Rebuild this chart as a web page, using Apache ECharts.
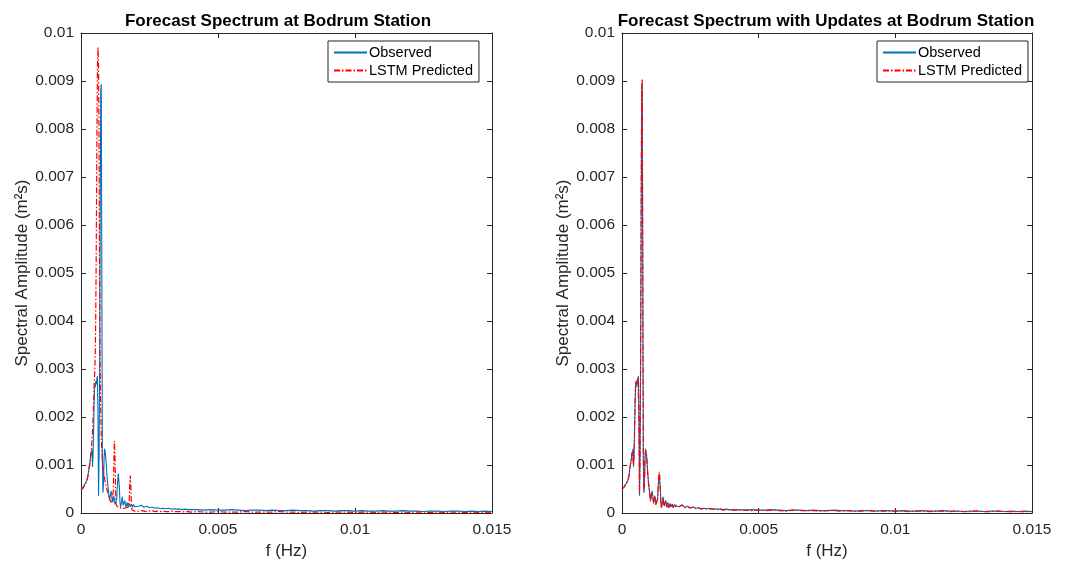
<!DOCTYPE html>
<html>
<head>
<meta charset="utf-8">
<script src="https://cdn.jsdelivr.net/npm/echarts@6/dist/echarts.min.js"></script>
<style>html,body{margin:0;padding:0;background:#fff}#c{width:1067px;height:565px}</style>
</head>
<body>
<div id="c"></div>
<script>
// Frequency bins (Hz)
const freq = [
0,0.00002,0.00004,0.00006,0.00008,0.0001,0.00012,0.00014,0.00016,0.00018,
0.0002,0.00022,0.00024,0.00026,0.00028,0.0003,0.00032,0.00034,0.00036,0.00038,
0.0004,0.00042,0.00044,0.00046,0.00048,0.0005,0.00052,0.00054,0.00056,0.00058,
0.0006,0.00062,0.00064,0.00066,0.00068,0.0007,0.00072,0.00074,0.00076,0.00078,
0.0008,0.00082,0.00084,0.00086,0.00088,0.0009,0.00092,0.00094,0.00096,0.00098,
0.001,0.00102,0.00104,0.00106,0.00108,0.0011,0.00112,0.00114,0.00116,0.00118,
0.0012,0.00122,0.00124,0.00126,0.00128,0.0013,0.00132,0.00134,0.00136,0.00138,
0.0014,0.00142,0.00144,0.00146,0.00148,0.0015,0.00152,0.00154,0.00156,0.00158,
0.0016,0.00162,0.00164,0.00166,0.00168,0.0017,0.00172,0.00174,0.00176,0.00178,
0.0018,0.00182,0.00184,0.00186,0.00188,0.0019,0.00192,0.00194,0.00196,0.00198,
0.002,
0.0021,0.0022,0.0023,0.0024,0.0025,0.0026,0.0027,0.0028,0.0029,0.003,
0.0031,0.0032,0.0033,0.0034,0.0035,0.0036,0.0037,0.0038,0.0039,0.004,
0.00425,0.0045,0.00475,0.005,0.00525,0.0055,0.00575,0.006,0.00625,0.0065,0.00675,
0.007,0.00725,0.0075,0.00775,0.008,0.00825,0.0085,0.00875,0.009,0.00925,0.0095,
0.00975,0.01,0.01025,0.0105,0.01075,0.011,0.01125,0.0115,0.01175,0.012,0.01225,
0.0125,0.01275,0.013,0.01325,0.0135,0.01375,0.014,0.01425,0.0145,0.01475,0.015
];

// Observed spectrum (m^2 s)
const observed = [
0.00050,0.00051,0.00052,0.00053,0.00054,0.00056,0.00058,0.00060,0.00062,0.00064,
0.00066,0.00068,0.00072,0.00080,0.00090,0.00098,0.00104,0.00112,0.00125,0.00120,
0.00134,0.00096,0.00120,0.00170,0.00230,0.00270,0.00262,0.00275,0.00268,0.00280,
0.00285,0.00200,0.00036,0.00120,0.00300,0.00600,0.00880,0.00893,0.00500,0.00120,
0.00042,0.00060,0.00110,0.00134,0.00128,0.00125,0.00105,0.00085,0.00070,0.00058,
0.00048,0.00036,0.00026,0.00030,0.00040,0.00046,0.00038,0.00028,0.00022,0.00030,
0.00036,0.00026,0.00018,0.00014,0.00016,0.00028,0.00048,0.00068,0.00082,0.00080,
0.00055,0.00025,0.00012,0.00010,0.00022,0.00034,0.00030,0.00016,0.00012,0.00020,
0.00026,0.00018,0.00012,0.00016,0.00022,0.00018,0.00012,0.00015,0.00020,0.00017,
0.00013,0.00016,0.00019,0.00015,0.00012,0.00015,0.00018,0.00016,0.00013,0.00015,
0.00017,
0.00014,0.00016,0.00012,0.00014,0.00011,0.00012,0.00010,0.00011,0.00009,0.00010,
0.00009,0.00010,0.00008,0.00009,0.00008,0.00008,0.00007,0.00008,0.00007,0.00007,
0.00007,0.00006,0.00007,0.00006,0.00006,0.00007,0.00006,0.00005,0.00006,0.00006,0.00005,
0.00006,0.00005,0.00005,0.00006,0.00005,0.00005,0.00004,0.00005,0.00005,0.00004,0.00005,
0.00005,0.00004,0.00005,0.00004,0.00004,0.00005,0.00004,0.00004,0.00005,0.00004,0.00004,
0.00003,0.00004,0.00004,0.00003,0.00004,0.00004,0.00003,0.00004,0.00003,0.00004,0.00003
];

// LSTM predicted spectrum (left panel, no updates)
const predicted = [
0.00048,0.00049,0.00050,0.00051,0.00052,0.00054,0.00056,0.00058,0.00060,0.00063,
0.00066,0.00070,0.00074,0.00079,0.00085,0.00092,0.00100,0.00110,0.00122,0.00135,
0.00150,0.00170,0.00195,0.00230,0.00270,0.00290,0.00330,0.00420,0.00580,0.00780,
0.00930,0.00970,0.00940,0.00750,0.00480,0.00300,0.00210,0.00160,0.00130,0.00110,
0.00095,0.00085,0.00078,0.00072,0.00066,0.00060,0.00055,0.00050,0.00046,0.00042,
0.00038,0.00034,0.00030,0.00027,0.00024,0.00022,0.00020,0.00019,0.00020,0.00045,
0.00110,0.00150,0.00120,0.00050,0.00020,0.00015,0.00013,0.00012,0.00012,0.00011,
0.00011,0.00010,0.00010,0.00010,0.00011,0.00010,0.00010,0.00009,0.00010,0.00010,
0.00010,0.00010,0.00011,0.00010,0.00010,0.00010,0.00012,0.00015,0.00025,0.00060,
0.00078,0.00050,0.00015,0.00007,0.00006,0.00005,0.00005,0.00004,0.00005,0.00004,
0.00004,
0.00004,0.00005,0.00004,0.00003,0.00004,0.00005,0.00003,0.00004,0.00003,0.00004,
0.00003,0.00003,0.00004,0.00003,0.00003,0.00003,0.00002,0.00003,0.00003,0.00002,
0.00003,0.00002,0.00002,0.00003,0.00002,0.00002,0.00002,0.00003,0.00002,0.00002,0.00002,
0.00002,0.00003,0.00002,0.00002,0.00001,0.00002,0.00002,0.00002,0.00001,0.00002,0.00002,
0.00002,0.00001,0.00002,0.00002,0.00001,0.00002,0.00002,0.00001,0.00002,0.00001,0.00002,
0.00002,0.00001,0.00002,0.00001,0.00002,0.00002,0.00001,0.00002,0.00001,0.00002,0.00001
];

// LSTM predicted spectrum with updates (right panel)
const predictedUpd = [
0.00049,0.00050,0.00052,0.00053,0.00055,0.00056,0.00058,0.00061,0.00062,0.00065,
0.00066,0.00069,0.00073,0.00079,0.00088,0.00097,0.00105,0.00113,0.00122,0.00128,
0.00130,0.00100,0.00118,0.00175,0.00235,0.00275,0.00270,0.00272,0.00270,0.00282,
0.00282,0.00195,0.00040,0.00125,0.00310,0.00610,0.00890,0.00905,0.00510,0.00125,
0.00045,0.00062,0.00112,0.00130,0.00126,0.00122,0.00100,0.00082,0.00068,0.00056,
0.00046,0.00034,0.00024,0.00032,0.00042,0.00044,0.00036,0.00026,0.00020,0.00028,
0.00034,0.00024,0.00016,0.00012,0.00018,0.00030,0.00052,0.00072,0.00086,0.00078,
0.00050,0.00022,0.00010,0.00012,0.00024,0.00032,0.00028,0.00014,0.00011,0.00018,
0.00024,0.00017,0.00011,0.00017,0.00020,0.00016,0.00011,0.00014,0.00019,0.00015,
0.00012,0.00017,0.00018,0.00013,0.00011,0.00016,0.00017,0.00014,0.00012,0.00016,
0.00015,
0.00013,0.00017,0.00011,0.00013,0.00010,0.00013,0.00009,0.00011,0.00008,0.00010,
0.00008,0.00009,0.00008,0.00008,0.00007,0.00008,0.00006,0.00007,0.00007,0.00006,
0.00006,0.00006,0.00005,0.00006,0.00005,0.00006,0.00005,0.00004,0.00006,0.00005,0.00005,
0.00005,0.00004,0.00005,0.00005,0.00004,0.00005,0.00004,0.00004,0.00005,0.00004,0.00004,
0.00004,0.00004,0.00004,0.00003,0.00004,0.00004,0.00003,0.00004,0.00004,0.00003,0.00004,
0.00003,0.00003,0.00004,0.00003,0.00003,0.00004,0.00003,0.00003,0.00003,0.00003,0.00003
];

const titles = ['Forecast Spectrum at Bodrum Station', 'Forecast Spectrum with Updates at Bodrum Station'];
const seriesNames = ['Observed', 'LSTM Predicted'];
const xName = 'f (Hz)';
const yName = 'Spectral Amplitude (m\u00B2s)';

const pair = (ys) => freq.map((f, i) => [f, ys[i]]);
const axisColor = '#262626';
const font = 'Liberation Sans, Arial, Helvetica, sans-serif';
const fmt = (v) => String(+v.toFixed(4));

const grids = [
  {left: 81, right: 575, top: 33, bottom: 51},
  {left: 622, right: 35, top: 33, bottom: 51}
];

function xAxes(gi) {
  return [
    {type: 'value', gridIndex: gi, position: 'bottom', min: 0, max: 0.015, interval: 0.005,
     name: xName, nameLocation: 'middle', nameGap: 30,
     nameTextStyle: {color: axisColor, fontSize: 17, fontFamily: font},
     axisLine: {show: true, onZero: false, lineStyle: {color: axisColor, width: 1}},
     axisTick: {show: true, inside: true, length: 5, lineStyle: {color: axisColor}},
     axisLabel: {color: axisColor, fontSize: 15.5, fontFamily: font, margin: 9, formatter: fmt},
     splitLine: {show: false}},
    {type: 'value', gridIndex: gi, position: 'top', min: 0, max: 0.015, interval: 0.005,
     axisLine: {show: true, onZero: false, lineStyle: {color: axisColor, width: 1}},
     axisTick: {show: true, inside: true, length: 5, lineStyle: {color: axisColor}},
     axisLabel: {show: false}, splitLine: {show: false}}
  ];
}
function yAxes(gi) {
  return [
    {type: 'value', gridIndex: gi, position: 'left', min: 0, max: 0.01, interval: 0.001,
     name: yName, nameLocation: 'middle', nameGap: 46,
     nameTextStyle: {color: axisColor, fontSize: 17, fontFamily: font},
     axisLine: {show: true, onZero: false, lineStyle: {color: axisColor, width: 1}},
     axisTick: {show: true, inside: true, length: 5, lineStyle: {color: axisColor}},
     axisLabel: {color: axisColor, fontSize: 15.5, fontFamily: font, margin: 7, formatter: fmt},
     splitLine: {show: false}},
    {type: 'value', gridIndex: gi, position: 'right', min: 0, max: 0.01, interval: 0.001,
     axisLine: {show: true, onZero: false, lineStyle: {color: axisColor, width: 1}},
     axisTick: {show: true, inside: true, length: 5, lineStyle: {color: axisColor}},
     axisLabel: {show: false}, splitLine: {show: false}}
  ];
}

function lineSeries(name, data, axisIdx, isPred) {
  return {
    type: 'line', name: name, data: pair(data), xAxisIndex: axisIdx, yAxisIndex: axisIdx,
    showSymbol: false, symbol: 'none', animation: false, z: isPred ? 3 : 2,
    lineStyle: isPred ? {color: '#FF0000', width: 1.2, type: [6, 2, 1.5, 2]}
                      : {color: '#0072BD', width: 1.1, type: 'solid'},
    itemStyle: {color: isPred ? '#FF0000' : '#0072BD'}
  };
}

function legend(left) {
  return {
    left: left, top: 41, orient: 'vertical', data: seriesNames,
    itemWidth: 33, itemHeight: 12, itemGap: 3,
    itemStyle: {opacity: 0},
    padding: [4, 6, 4, 5], borderColor: axisColor, borderWidth: 1, backgroundColor: '#fff',
    textStyle: {color: '#000', fontSize: 14.5, fontFamily: font, padding: [0, 0, 0, -3]},
    selectedMode: false
  };
}

const chart = echarts.init(document.getElementById('c'), null, {renderer: 'canvas'});
chart.setOption({
  backgroundColor: '#fff',
  animation: false,
  title: [
    {text: titles[0], left: 273, top: 8, textAlign: 'center',
     textStyle: {fontSize: 17, fontWeight: 'bold', color: '#000', fontFamily: font}},
    {text: titles[1], left: 821, top: 8, textAlign: 'center',
     textStyle: {fontSize: 17, fontWeight: 'bold', color: '#000', fontFamily: font}}
  ],
  grid: grids,
  xAxis: [...xAxes(0), ...xAxes(1)],
  yAxis: [...yAxes(0), ...yAxes(1)],
  legend: [legend(328), legend(877)],
  series: [
    lineSeries(seriesNames[0], observed, 0, false),
    lineSeries(seriesNames[1], predicted, 0, true),
    lineSeries(seriesNames[0], observed, 2, false),
    lineSeries(seriesNames[1], predictedUpd, 2, true)
  ]
});
</script>
</body>
</html>
